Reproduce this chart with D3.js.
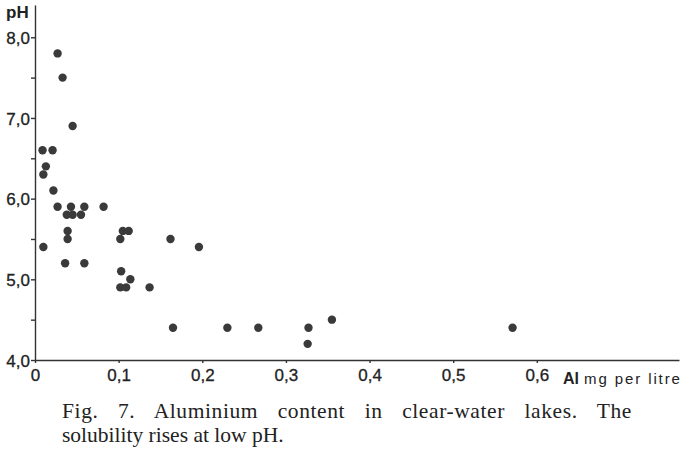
<!DOCTYPE html>
<meta charset="utf-8">
<style>
  body { margin: 0; background: #fff; }
  .axis path, .axis line { stroke: #333; stroke-width: 1.4px; }
  .axis text { font-family: "Liberation Sans", Arial, sans-serif; font-size: 17px; fill: #222; stroke: #222; stroke-width: 0.3px; }
  .caption { font-family: "Liberation Serif", "DejaVu Serif", serif; font-size: 21.5px; fill: #222; }
</style>
<body>
<svg width="685" height="454"></svg>
<script src="https://cdnjs.cloudflare.com/ajax/libs/d3/7.8.5/d3.min.js"></script>
<script>
// aluminium (mg per litre) and pH for each lake
var al = [0.027, 0.033, 0.045, 0.009, 0.021, 0.013, 0.010, 0.022,
          0.027, 0.043, 0.059, 0.082, 0.038, 0.045, 0.055, 0.039,
          0.039, 0.010, 0.036, 0.059, 0.105, 0.112, 0.102, 0.103,
          0.114, 0.102, 0.109, 0.137, 0.162, 0.196, 0.165, 0.230,
          0.267, 0.327, 0.326, 0.355, 0.571];
var ph = [7.8, 7.5, 6.9, 6.6, 6.6, 6.4, 6.3, 6.1,
          5.9, 5.9, 5.9, 5.9, 5.8, 5.8, 5.8, 5.6,
          5.5, 5.4, 5.2, 5.2, 5.6, 5.6, 5.5, 5.1,
          5.0, 4.9, 4.9, 4.9, 5.5, 5.4, 4.4, 4.4,
          4.4, 4.4, 4.2, 4.5, 4.4];
var xTicks = [0, 0.1, 0.2, 0.3, 0.4, 0.5, 0.6];
var yTicks = [4, 5, 6, 7, 8];
var yMinor = [4.5, 5.5, 6.5, 7.5];

var svg = d3.select("svg");

var x = d3.scaleLinear().domain([0, 0.77]).range([35, 679]);
var y = d3.scaleLinear().domain([4, 8.4]).range([360, 5]);

function comma(d) { return d === 0 ? "0" : d3.format(".1f")(d).replace(".", ","); }

svg.append("g")
    .attr("class", "axis")
    .attr("transform", "translate(0,360)")
    .call(d3.axisBottom(x).tickValues(xTicks).tickFormat(comma).tickSize(3).tickSizeOuter(0).tickPadding(5))
    .call(function(g) { g.selectAll("text").attr("dy", "0.78em"); });

svg.append("g")
    .attr("class", "axis")
    .attr("transform", "translate(35,0)")
    .call(d3.axisLeft(y).tickValues(yTicks).tickFormat(comma).tickSize(4).tickSizeOuter(0).tickPadding(1))
    .call(function(g) { g.selectAll("text").attr("dy", "0.36em"); });

// half-unit ticks, no labels
svg.append("g")
    .attr("class", "axis")
    .attr("transform", "translate(35,0)")
    .call(d3.axisLeft(y).tickValues(yMinor).tickFormat("").tickSize(4))
    .call(function(g) { g.select(".domain").remove(); });

var pts = al.map(function(v, i) { return { al: v, ph: ph[i] }; });

svg.append("g")
  .selectAll("circle")
  .data(pts)
  .enter().append("circle")
    .attr("cx", function(d) { return x(d.al); })
    .attr("cy", function(d) { return y(d.ph); })
    .attr("r", 4.2)
    .attr("fill", "#3a3a3a");

svg.append("text")
    .attr("x", 6).attr("y", 18)
    .attr("font-family", "Liberation Sans, Arial, sans-serif")
    .attr("font-weight", "bold").attr("font-size", 17).attr("fill", "#222")
    .text("pH");

var xl = svg.append("text")
    .attr("x", 563).attr("y", 384)
    .attr("font-family", "Liberation Sans, Arial, sans-serif")
    .attr("fill", "#222");
xl.append("tspan").attr("font-weight", "bold").attr("font-size", 16).text("Al");
xl.append("tspan").attr("font-size", 15).attr("dx", 5).attr("letter-spacing", "1.9px").text("mg per litre");

// first caption line is justified: spread the words to the right margin
var line1 = svg.append("text").attr("class", "caption")
    .attr("x", 62).attr("y", 418)
    .attr("letter-spacing", "0.6px")
    .text("Fig. 7. Aluminium content in clear-water lakes. The");
var w = line1.node().getComputedTextLength();
var gaps = line1.text().split(" ").length - 1;
line1.attr("word-spacing", Math.max(0, (632 - 62 - w) / gaps) + "px");

svg.append("text").attr("class", "caption")
    .attr("x", 62).attr("y", 442)
    .text("solubility rises at low pH.");
</script>
</body>
